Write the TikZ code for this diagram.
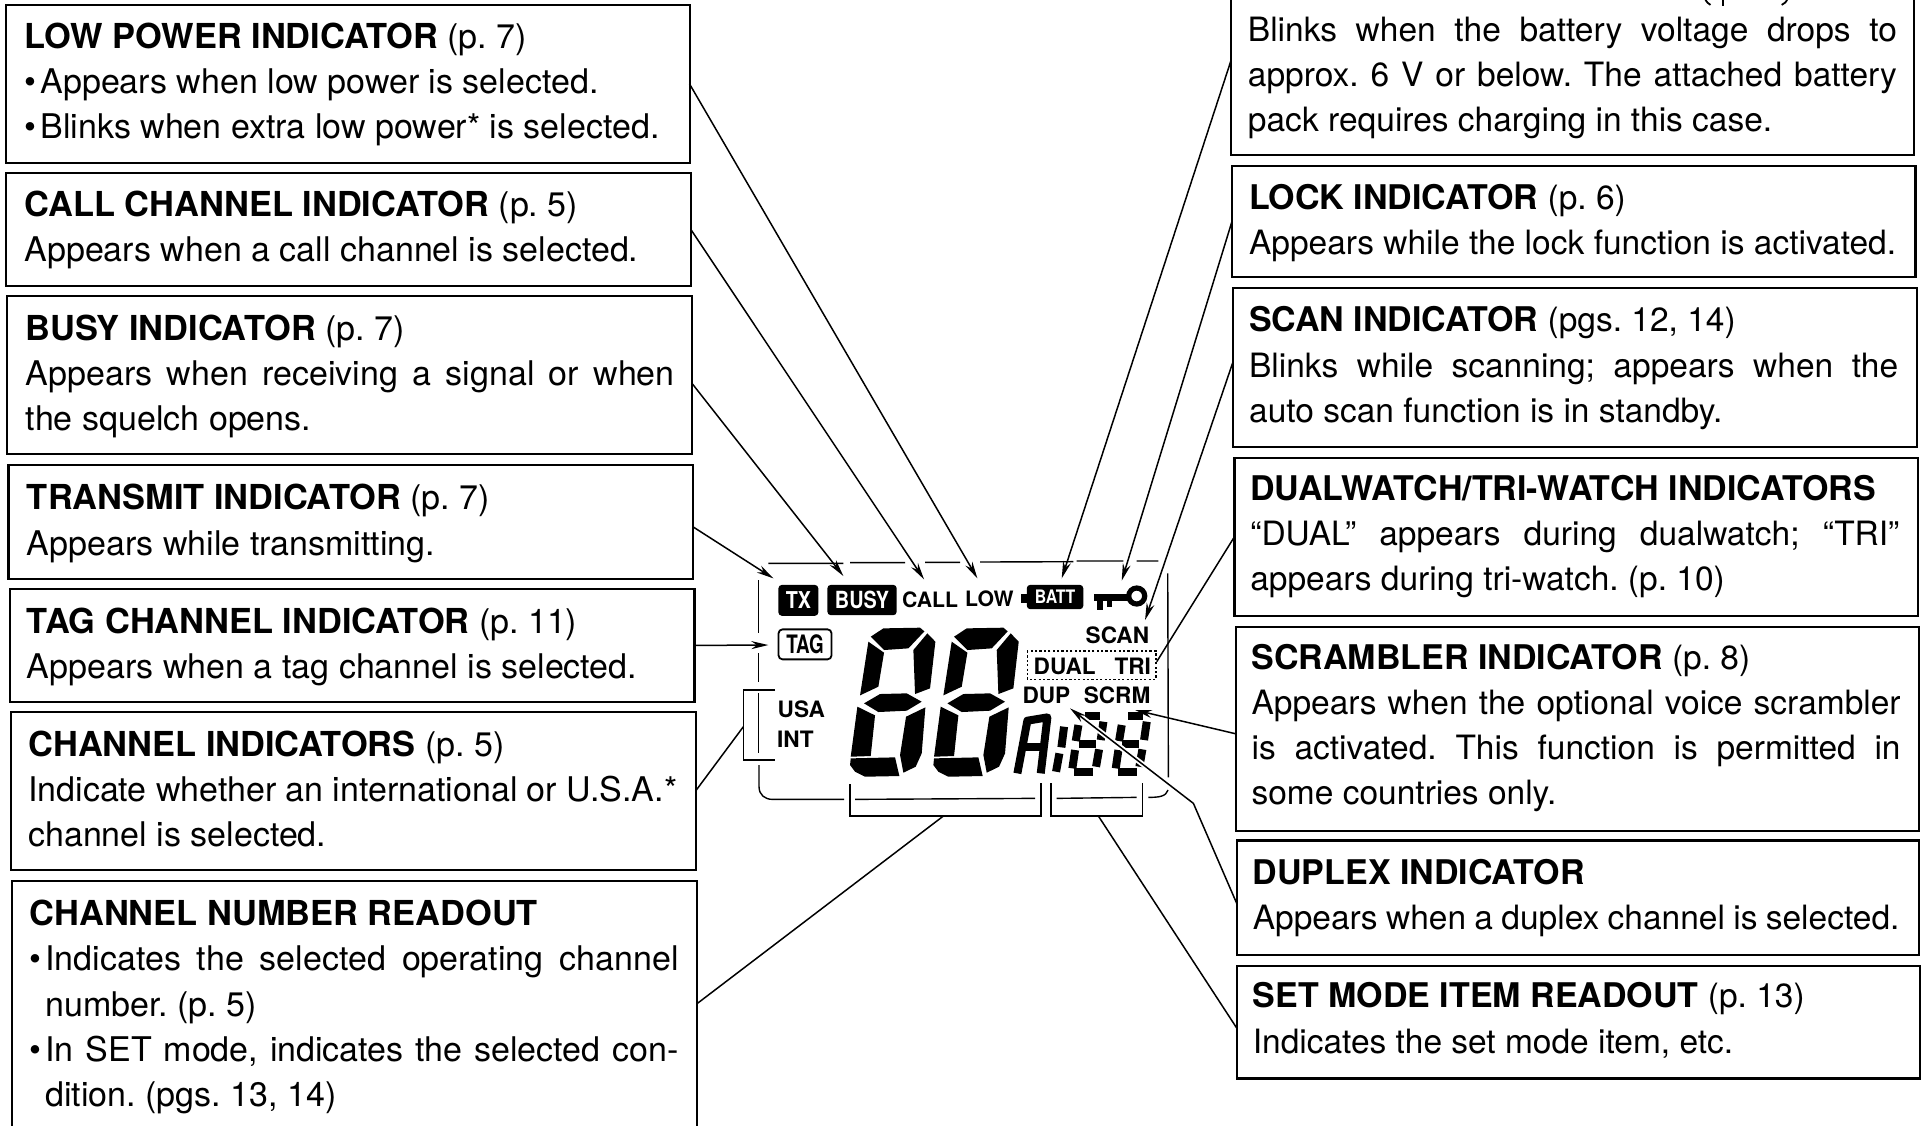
\documentclass[tikz,border=0pt]{standalone}
\usepackage{fontspec}
\setmainfont{TeX Gyre Heros}
\usetikzlibrary{arrows.meta,calc}
\tikzset{
  box/.style={draw=black,line width=1.1pt,inner sep=0pt,outer sep=0pt,fill=none},
  txt/.style={anchor=north west,inner sep=0pt,outer sep=0pt,align=left,text=black,font=\fontsize{16.75}{22.6}\selectfont\frenchspacing},
  txtl/.style={txt,font=\fontsize{17}{22.6}\selectfont\frenchspacing},
  conn/.style={draw=black,line width=0.75pt},
  arr/.style={conn,-{Stealth[length=8.5pt,width=4pt]}},
  frameline/.style={draw=black,line width=0.7pt},
  lcdtxt/.style={inner sep=0pt,outer sep=0pt,font=\fontsize{10.6}{12}\selectfont\bfseries},
  lcdwide/.style={lcdtxt,font=\fontsize{11.3}{12}\selectfont\bfseries},
  lcdblack/.style={fill=black,rounded corners=1.8pt,inner sep=0pt,text=white},
  seg/.style={fill=black,draw=none},
  sseg/.style={draw=black,line width=4pt},
}
\newcommand{\bx}[5]{%
  \pgfmathsetmacro{\bw}{(#4-#2)*0.6135}\pgfmathsetmacro{\bh}{(#5-#3)*0.6135}%
  \node[box,minimum width=\bw pt,minimum height=\bh pt] (#1) at ({(#2+#4)/2},{(#3+#5)/2}) {};}
\newcommand{\tb}[4]{\node[txt] (#1) at (#2,{#3-25.3}) {#4};}
\newcommand{\tbl}[4]{\node[txtl] (#1) at (#2,{#3-25.3}) {#4};}
\newcommand{\T}[1]{\strut{\fontsize{17}{22.6}\selectfont\bfseries #1}}
\newcommand{\TL}[1]{\strut{\fontsize{17.2}{22.6}\selectfont\bfseries #1}}
\newcommand{\J}[1]{\makebox[324.5pt][s]{#1}}
\newcommand{\JJ}[1]{\makebox[316.6pt][s]{#1}}
\newcommand{\bu}{\makebox[8pt][l]{\textbullet}}
\newcommand{\bigdigit}[1]{%
 \begin{scope}[xshift=#1*0.16667pt]
  \fill[seg] (392,290)--(430,265)--(540,263)--(553,274)--(505,325)--(432,330)--cycle;
  \fill[seg] (385,305)--(432,338)--(415,440)--(360,466)--cycle;
  \fill[seg] (562,280)--(586,305)--(570,445)--(525,462)--(520,330)--cycle;
  \fill[seg] (372,490)--(420,462)--(500,460)--(545,485)--(500,512)--(415,516)--cycle;
  \fill[seg] (352,500)--(405,526)--(392,648)--(332,650)--cycle;
  \fill[seg] (556,502)--(545,640)--(527,680)--(490,698)--(480,645)--(498,530)--cycle;
  \fill[seg] (332,655)--(465,652)--(478,708)--(375,710)--(345,695)--(330,675)--cycle;
 \end{scope}}
\newcommand{\smalldigit}[1]{%
 \begin{scope}[xshift=#1*0.16667pt]
  \draw[sseg] (1035,528)--(1080,528);
  \draw[sseg] (1015,555)--(1007,603);
  \draw[sseg] (1090,545)--(1082,600);
  \draw[sseg] (1017,612)--(1068,612);
  \draw[sseg] (1005,630)--(997,685);
  \draw[sseg] (1077,628)--(1068,680);
  \draw[sseg] (1003,697)--(1060,697);
 \end{scope}}
\begin{document}
\begin{tikzpicture}[x=0.6135pt,y=-0.6135pt]
\fill[white] (0,0) rectangle (1568,917);
\useasboundingbox (0,0) rectangle (1568,917);
\clip (0,0) rectangle (1568,917);
% left boxes
\bx{low}{5}{4}{562}{133}
\bx{call}{5}{141}{563}{233}
\bx{busy}{6}{241}{564}{370}
\bx{tx}{7}{379}{565}{472}
\bx{tag}{8}{480}{566}{572}
\bx{chan}{9}{580}{567}{709}
\bx{num}{10}{718}{568}{1000}
% right boxes
\bx{batt}{1003}{-40}{1560}{126}
\bx{lock}{1004}{135}{1561}{226}
\bx{scan}{1005}{235}{1562}{364}
\bx{dual}{1006}{373}{1563}{502}
\bx{scrm}{1007}{511}{1564}{677}
\bx{dup}{1008}{685}{1564}{778}
\bx{set}{1008}{787}{1565}{879}
% box text
\tbl{lowt}{20}{39}{\TL{LOW POWER INDICATOR} (p. 7)\\\bu Appears when low power is selected.\\\bu Blinks when extra low power* is selected.}
\tbl{callt}{20}{176}{\TL{CALL CHANNEL INDICATOR} (p. 5)\\Appears when a call channel is selected.}
\tbl{busyt}{21}{277}{\TL{BUSY INDICATOR} (p. 7)\\\J{Appears when receiving a signal or when}\\the squelch opens.}
\tbl{txt1}{22}{415}{\TL{TRANSMIT INDICATOR} (p. 7)\\Appears while transmitting.}
\tbl{tagt}{22}{516}{\TL{TAG CHANNEL INDICATOR} (p. 11)\\Appears when a tag channel is selected.}
\tbl{chant}{23}{616}{\TL{CHANNEL INDICATORS} (p. 5)\\\J{Indicate whether an international or U.S.A.*}\\channel is selected.}
\tbl{numt}{24}{754}{\TL{CHANNEL NUMBER READOUT}\\\bu\JJ{Indicates the selected operating channel}\\\hspace*{8pt}number. (p. 5)\\\bu\JJ{In SET mode, indicates the selected con-}\\\hspace*{8pt}dition. (pgs. 13, 14)}
\tb{battt}{1017}{33}{\strut\J{Blinks when the battery voltage drops to}\\\J{approx. 6 V or below. The attached battery}\\pack requires charging in this case.}
\tb{lockt}{1018}{170}{\T{LOCK INDICATOR} (p. 6)\\Appears while the lock function is activated.}
\tb{scant}{1018}{270}{\T{SCAN INDICATOR} (pgs. 12, 14)\\\J{Blinks while scanning; appears when the}\\auto scan function is in standby.}
\tb{dualt}{1019}{407}{\T{DUALWATCH/TRI-WATCH INDICATORS}\\\J{“DUAL” appears during dualwatch; “TRI”}\\appears during tri-watch. (p. 10)}
\tb{scrmt}{1020}{545}{\T{SCRAMBLER INDICATOR} (p. 8)\\\J{Appears when the optional voice scrambler}\\\J{is activated. This function is permitted in}\\some countries only.}
\tb{dupt}{1021}{720}{\T{DUPLEX INDICATOR}\\\makebox[323.3pt][s]{Appears when a duplex channel is selected.}}
\tb{sett}{1021}{821}{\T{SET MODE ITEM READOUT} (p. 13)\\Indicates the set mode item, etc.}
% remnants of the cut-off title of the top right box
\draw[line width=0.9pt] (1389,-2) .. controls (1391,2) and (1392,3) .. (1394,4);
\draw[line width=1.1pt] (1404,-2) -- (1404,5);
\draw[line width=0.9pt] (1457,-2) .. controls (1456,2) and (1454,3) .. (1452,4);
% LCD, in a 3x crop frame
\begin{scope}[shift={(370pt,-270pt)},x=0.16667pt,y=-0.16667pt]
  % frame
  \draw[frameline] (85,70)--(310,70) (330,68)--(495,68) (555,67)--(660,67) (720,66)--(1000,65) (1010,63)--(1150,63) (1190,63)--(1255,63);
  \draw[frameline] (1283,100)--(1285,712);
  \draw[frameline] (55,120)--(55,280) (55,340)--(55,425) (55,460)--(55,640);
  \draw[frameline] (57,675)--(57,740) .. controls (57,765) and (75,778) .. (97,778) -- (312,778);
  \draw[frameline] (345,778)--(885,775) (950,775)--(1190,772);
  \draw[frameline] (1225,772) .. controls (1255,772) and (1278,770) .. (1284,750);
  % brackets
  \draw[frameline] (105,450)--(10,450)--(10,660)--(105,660);
  \draw[frameline] (330,732)--(330,828)--(903,828)--(903,730);
  \draw[frameline] (933,730)--(933,828)--(1207,828)--(1207,730);
  \coordinate (brA) at (10,560);
  \coordinate (brB) at (610,828);
  \coordinate (brC) at (1075,828);
  % indicators
  \node[lcdblack,minimum width=20pt,minimum height=15.5pt,font=\fontsize{11.6}{13}\selectfont\bfseries] (ltx) at (175,181) {\scalebox{.85}[1]{TX}};
  \node[lcdblack,minimum width=34.7pt,minimum height=15.2pt,font=\fontsize{11.8}{13}\selectfont\bfseries] (lbusy) at (366,180) {\scalebox{.84}[1]{BUSY}};
  \node[lcdtxt] (lcall) at (570,178) {CALL};
  \node[lcdtxt] (llow) at (748,176) {LOW};
  \fill (842,162) rectangle (862,190);
  \node[lcdblack,minimum width=28.3pt,minimum height=12.2pt,font=\fontsize{9.3}{11}\selectfont\bfseries] (lbatt) at (945,171) {\scalebox{.85}[1]{BATT}};
  % key
  \fill (1062,163) rectangle (1170,182);
  \fill (1070,175) rectangle (1088,209);
  \fill (1100,175) rectangle (1116,202);
  \draw[line width=2.6pt] (1190,168) circle[radius=24];
  \node[draw=black,line width=0.9pt,rounded corners=2pt,inner sep=0pt,minimum width=26.5pt,minimum height=15pt,font=\fontsize{12.7}{14}\selectfont\bfseries] (ltag) at (195,313) {\scalebox{.74}[1]{TAG}};
  \node[lcdwide] (lscan) at (1132,287) {SCAN};
  \draw[line width=0.8pt,dash pattern=on 1.1pt off 1.1pt] (862,333) rectangle (1247,418);
  \node[lcdwide] (ldual) at (974,379) {DUAL};
  \node[lcdwide] (ltri) at (1178,379) {TRI};
  \node[lcdwide] (ldup) at (919,467) {DUP};
  \node[lcdwide] (lscrm) at (1131,467) {SCRM};
  \node[lcdwide] (lusa) at (184,508) {USA};
  \node[lcdwide] (lint) at (166,597) {INT};
  % digits
  \bigdigit{0}
  \bigdigit{250}
  % small A 1 8 8
  \draw[sseg,line join=round] (832,700)--(862,542)--(922,532)--(902,700);
  \draw[sseg] (848,622)--(905,622);
  \draw[sseg] (972,560)--(964,622) (958,640)--(948,695);
  \smalldigit{0}
  \smalldigit{130}
  % arrow ends
  \coordinate (aTx) at (100,115);
  \coordinate (aBusy) at (310,108);
  \coordinate (aCall) at (552,118);
  \coordinate (aLow) at (712,115);
  \coordinate (aBatt) at (965,115);
  \coordinate (aLock) at (1145,122);
  \coordinate (aScan) at (1215,240);
  \coordinate (aTri) at (1250,365);
  \coordinate (aScrm) at (1185,510);
  \coordinate (aDup) at (990,505);
  \coordinate (bend) at (1360,790);
  \coordinate (aTag) at (85,315);
\end{scope}
% connectors
\draw[arr] (low.east) -- (aLow);
\draw[arr] (call.east) -- (aCall);
\draw[arr] ($(busy.east)+(0,7)$) -- (aBusy);
\draw[arr] ($(tx.east)+(0,4)$) -- (aTx);
\draw[arr] (tag.east) -- (aTag);
\draw[conn] (chan.east) -- (brA);
\draw[conn] ($(num.east)+(0,-41)$) -- (brB);
\draw[conn] (set.west) ++(0,5) -- (brC);
\draw[white,line width=2.6pt] (bend) -- (aDup);
\draw[arr] ($(dup.west)+(0,5)$) -- (bend) -- (aDup);
\draw[arr] ($(scrm.west)+(0,4)$) -- (aScrm);
\draw[conn] (dual.west) -- (aTri);
\draw[arr] ($(scan.west)+(0,-5)$) -- (aScan);
\draw[arr] (lock.west) -- (aLock);
\draw[arr] ($(batt.west)+(0,7)$) -- (aBatt);
\end{tikzpicture}
\end{document}
